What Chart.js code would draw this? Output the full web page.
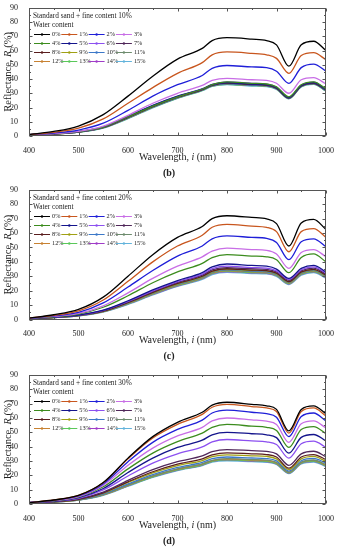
<!DOCTYPE html>
<html>
<head>
<meta charset="utf-8">
<script src="https://cdn.jsdelivr.net/npm/chart.js@4.4.1/dist/chart.umd.min.js"></script>
<style>
  html, body { margin: 0; padding: 0; background: #fff; }
  canvas { display: block; }
</style>
</head>
<body>
<canvas id="chartB" width="337" height="182"></canvas>
<canvas id="chartC" width="337" height="184"></canvas>
<canvas id="chartD" width="337" height="184"></canvas>
<script>
// wavelength (nm) at which values were read
const wavelengths = [400, 450, 500, 550, 600, 650, 700, 750, 770, 800, 850, 880, 900, 925, 950, 975, 1000];

const waterContent = ['0%', '1%', '2%', '3%', '4%', '5%', '6%', '7%',
                      '8%', '9%', '10%', '11%', '12%', '13%', '14%', '15%'];

const seriesColors = ['#000000', '#c8561e', '#1f1fd8', '#c86ee6', '#3c8c1e', '#14148c', '#8c50f0', '#50285a',
                      '#5a1e1e', '#a0a014', '#3c78c8', '#6e8c6e', '#c88232', '#5ac85a', '#a03cc8', '#64b4dc'];

// reflectance (%), fine content 10%, one row per water content
const fine10 = [
  [1.0, 3.2, 7.0, 15, 28, 42, 54, 61.5, 67, 69, 68, 67, 64, 49, 64, 66.5, 60],
  [1.0, 2.6, 5.5, 12, 23, 34, 44, 51.5, 57, 59, 58, 57, 54.5, 44, 56.5, 58.5, 53.5],
  [1.0, 2.1, 4.2, 9, 18, 28, 36, 42.5, 47.5, 49.5, 48.5, 48, 45.5, 37, 48, 50.5, 45.5],
  [1.0, 1.7, 3.3, 7, 14.5, 23, 30, 35.5, 39, 40.5, 39.5, 39, 37, 30, 39.5, 41, 36.5],
  [1.0, 1.6, 3.0, 6.2, 13.5, 21, 27.5, 33, 36, 38, 37, 36.5, 34.5, 27.5, 36, 38, 33],
  [1.0, 1.6, 3.1, 6.4, 13.8, 21.5, 28, 33, 36, 37.5, 36.5, 36, 34, 27, 35.5, 37.5, 32.5],
  [1.0, 1.6, 3.0, 6.3, 13.6, 21.3, 27.8, 33.2, 36.2, 38, 37, 36.4, 34.4, 27.2, 35.8, 37.8, 32.8],
  [1.0, 1.5, 2.9, 6.0, 13.2, 21, 27.5, 32.8, 35.8, 37.3, 36.3, 35.8, 33.8, 26.8, 35.3, 37.2, 32.3],
  [1.0, 1.5, 2.9, 6.0, 13.0, 20.6, 27.2, 32.6, 35.6, 37.1, 36.1, 35.6, 33.6, 26.7, 35.2, 37.0, 32.2],
  [1.0, 1.5, 2.9, 6.1, 13.2, 20.9, 27.4, 32.9, 35.9, 37.5, 36.5, 36.0, 34.0, 27.0, 35.6, 37.6, 32.7],
  [1.0, 1.5, 2.8, 5.9, 12.8, 20.4, 27.0, 32.4, 35.4, 36.8, 35.8, 35.4, 33.4, 26.5, 35.0, 36.8, 32.0],
  [1.0, 1.5, 2.8, 5.8, 12.6, 20.2, 26.8, 32.2, 35.2, 36.5, 35.6, 35.2, 33.2, 26.4, 34.8, 36.6, 31.8],
  [1.0, 1.5, 2.8, 5.8, 12.7, 20.3, 26.9, 32.3, 35.3, 36.6, 35.7, 35.3, 33.3, 26.5, 34.9, 36.7, 31.9],
  [1.0, 1.4, 2.7, 5.7, 12.4, 20.0, 26.6, 32.0, 35.0, 36.3, 35.4, 35.0, 33.0, 26.2, 34.6, 36.4, 31.6],
  [1.0, 1.5, 2.8, 5.9, 12.8, 20.5, 27.1, 32.5, 35.5, 36.8, 35.9, 35.5, 33.5, 26.6, 35.1, 36.9, 32.1],
  [1.0, 1.4, 2.7, 5.6, 12.2, 19.8, 26.4, 31.8, 34.8, 36.0, 35.1, 34.7, 32.7, 26.0, 34.4, 36.2, 31.4]
];

// reflectance (%), fine content 20%
const fine20 = [
  [1.0, 3.3, 7.0, 15.5, 30, 45, 57, 64.5, 70, 72, 70.8, 69.8, 66.5, 51, 67, 69.5, 62.5],
  [1.0, 2.9, 6.0, 13.5, 26.5, 40, 51, 58.5, 64, 66, 64.8, 64, 61, 47, 61, 63, 57],
  [1.0, 2.5, 5.0, 11.5, 22.5, 34, 44, 51, 56, 58, 57, 56.3, 53.5, 41.5, 54, 56, 50.5],
  [1.0, 2.1, 4.2, 9.5, 18.5, 28.5, 37, 43.5, 47.5, 49.5, 48.5, 48, 45.5, 35.5, 46.5, 48.5, 43.5],
  [1.0, 1.9, 3.8, 8.5, 16.5, 25.5, 33, 39, 43, 45, 44, 43.5, 41.5, 32.5, 43, 45.5, 40],
  [1.0, 1.6, 3.1, 6.5, 13, 20.5, 27, 32.5, 36.5, 38.5, 37.5, 37, 35, 28.5, 35.5, 37.5, 33],
  [1.0, 1.6, 3.0, 6.3, 12.5, 19.8, 26.3, 31.5, 35.3, 37, 36, 35.6, 33.8, 27.8, 34.5, 36.5, 32.2],
  [1.0, 1.5, 2.9, 6.1, 12.2, 19.3, 25.7, 30.8, 34.5, 36, 35.2, 34.8, 33, 27.2, 33.8, 35.7, 31.5],
  [1.0, 1.5, 2.8, 5.8, 11.8, 18.8, 25, 30, 33.5, 35.2, 34.3, 33.9, 32.2, 26.3, 33, 34.8, 30.8],
  [1.0, 1.5, 2.8, 5.8, 11.7, 18.6, 24.8, 29.8, 33.3, 35, 34.1, 33.7, 32, 26.1, 32.8, 34.6, 30.6],
  [1.0, 1.5, 2.8, 5.7, 11.5, 18.4, 24.5, 29.5, 33, 34.6, 33.7, 33.3, 31.6, 25.8, 32.5, 34.3, 30.3],
  [1.0, 1.4, 2.7, 5.6, 11.3, 18.1, 24.2, 29.1, 32.6, 34.2, 33.3, 33, 31.3, 25.5, 32.2, 34, 30],
  [1.0, 1.4, 2.7, 5.5, 11.1, 17.9, 24, 28.9, 32.4, 34, 33.1, 32.8, 31.1, 25.3, 32, 33.8, 29.8],
  [1.0, 1.4, 2.6, 5.4, 10.9, 17.6, 23.6, 28.5, 32, 33.5, 32.6, 32.3, 30.6, 24.9, 31.5, 33.3, 29.3],
  [1.0, 1.4, 2.6, 5.4, 10.8, 17.4, 23.4, 28.3, 31.8, 33.3, 32.4, 32.1, 30.4, 24.7, 31.3, 33.1, 29.1],
  [1.0, 1.3, 2.5, 5.2, 10.5, 17.0, 23.0, 27.8, 31.2, 32.7, 31.9, 31.6, 29.9, 24.3, 30.8, 32.6, 28.6]
];

// reflectance (%), fine content 30%
const fine30 = [
  [1.0, 2.8, 6.0, 15, 32, 47, 57, 64, 69, 71, 69.5, 68.5, 66, 51, 66, 68.5, 63],
  [1.0, 2.8, 6.0, 14.8, 31.5, 46, 55.5, 62.5, 67.5, 69.5, 68, 67, 64.5, 49.5, 64.5, 67, 61.5],
  [1.0, 2.6, 5.6, 14, 29.5, 43, 52, 58.5, 63.5, 65.5, 64, 63, 60.5, 47, 61, 63.5, 58],
  [1.0, 2.4, 5.2, 13, 27, 39, 47.5, 53.5, 58, 60, 58.7, 57.8, 55.5, 43, 56, 58, 53],
  [1.0, 2.2, 4.8, 12, 24.5, 35.5, 43.5, 49.5, 53.5, 55.5, 54.3, 53.5, 51.3, 39.5, 52, 54, 49],
  [1.0, 2.0, 4.4, 10.8, 22, 32, 39.5, 44.5, 48.3, 50, 49, 48.3, 46.3, 35.5, 46.5, 48.5, 44],
  [1.0, 1.9, 4.0, 9.8, 19.5, 28.5, 35, 39.8, 43.3, 45, 44, 43.4, 41.5, 32, 42, 43.8, 39.5],
  [1.0, 1.7, 3.5, 8.3, 16.5, 24, 29.5, 33.5, 36.5, 38, 37.2, 36.7, 35, 27, 35, 36.8, 33],
  [1.0, 1.6, 3.3, 7.8, 15.5, 22.5, 27.8, 31.5, 34.3, 35.7, 35, 34.5, 32.8, 25, 32.8, 34.5, 31],
  [1.0, 1.6, 3.2, 7.5, 15, 21.7, 26.8, 30.3, 33, 34.3, 33.6, 33.2, 31.5, 24, 31.5, 33.2, 29.8],
  [1.0, 1.5, 3.0, 7.0, 14, 20.5, 25.5, 29, 31.6, 32.8, 32.1, 31.7, 30.1, 23, 30.2, 31.8, 28.5],
  [1.0, 1.5, 2.9, 6.6, 13.3, 19.6, 24.5, 28, 30.5, 31.6, 31, 30.6, 29, 22.3, 29.2, 30.7, 27.5],
  [1.0, 1.5, 2.9, 6.5, 13.1, 19.4, 24.3, 27.8, 30.3, 31.3, 30.7, 30.3, 28.7, 22.1, 29, 30.4, 27.2],
  [1.0, 1.4, 2.8, 6.3, 12.8, 19.0, 23.8, 27.3, 29.8, 30.8, 30.2, 29.8, 28.2, 21.7, 28.5, 29.9, 26.7],
  [1.0, 1.4, 2.8, 6.3, 12.7, 18.9, 23.7, 27.2, 29.7, 30.6, 30, 29.6, 28, 21.6, 28.3, 29.7, 26.5],
  [1.0, 1.4, 2.7, 6.1, 12.4, 18.5, 23.3, 26.8, 29.2, 30.1, 29.5, 29.1, 27.6, 21.2, 27.9, 29.3, 26.1]
];

const FONT = '"Liberation Serif", "Times New Roman", serif';
const INK = '#222';

function drawParts(ctx, parts, cx, cy, size) {
  let total = 0;
  const widths = parts.map(p => {
    ctx.font = `${p[1]} ${size}px ${FONT}`;
    const w = ctx.measureText(p[0]).width;
    total += w;
    return w;
  });
  let x = cx - total / 2;
  ctx.textAlign = 'left';
  ctx.textBaseline = 'middle';
  parts.forEach((p, i) => {
    ctx.font = `${p[1]} ${size}px ${FONT}`;
    ctx.fillText(p[0], x, cy);
    x += widths[i];
  });
}

// box, inward ticks, titles, panel tag and the 4x4 legend
const framePlugin = {
  id: 'frame',
  afterDraw(chart, args, opts) {
    const { ctx, chartArea: a, scales: { x, y } } = chart;
    const L = Math.round(a.left) + 0.5, R = Math.round(a.right) - 0.5;
    const T = Math.round(a.top) + 0.5, B = Math.round(a.bottom) - 0.5;
    ctx.save();
    ctx.strokeStyle = '#555';
    ctx.lineWidth = 1;
    ctx.strokeRect(L, T, R - L, B - T);

    ctx.beginPath();
    for (let v = 400; v <= 1000; v += 50) {
      const px = Math.round(x.getPixelForValue(v)) + 0.5;
      const len = v % 100 ? 1.5 : 3;
      ctx.moveTo(px, B); ctx.lineTo(px, B - len);
      ctx.moveTo(px, T); ctx.lineTo(px, T + len);
    }
    for (let v = 0; v <= 90; v += 5) {
      const py = Math.round(y.getPixelForValue(v)) + 0.5;
      const len = v % 10 ? 1.5 : 3;
      ctx.moveTo(L, py); ctx.lineTo(L + len, py);
      ctx.moveTo(R, py); ctx.lineTo(R - len, py);
    }
    ctx.stroke();

    ctx.fillStyle = INK;
    drawParts(ctx, [['Wavelength, ', 'normal'], ['i', 'italic'], [' (nm)', 'normal']],
      (a.left + a.right) / 2, a.bottom + 21, 10);

    ctx.save();
    ctx.translate(8, (a.top + a.bottom) / 2);
    ctx.rotate(-Math.PI / 2);
    drawParts(ctx, [['Reflectance, ', 'normal'], ['R', 'italic'], [' (%)', 'normal']], 0, 0, 10.5);
    ctx.restore();

    drawParts(ctx, [[opts.tag, 'bold']], 169, a.bottom + 37, 10);

    // legend
    const lx = a.left + 4, ly = a.top + 8;
    ctx.font = `7.3px ${FONT}`;
    ctx.textAlign = 'left';
    ctx.textBaseline = 'middle';
    ctx.fillText('Standard sand + fine content ' + opts.fines, lx, ly);
    ctx.fillText('Water content', lx, ly + 9);
    ctx.font = `6.3px ${FONT}`;
    ctx.lineWidth = 1;
    chart.data.datasets.forEach((ds, i) => {
      const col = i % 4, row = Math.floor(i / 4);
      const sx = lx + 1 + col * 27.3, sy = Math.round(ly + 18 + row * 9) + 0.5;
      ctx.strokeStyle = ds.borderColor;
      ctx.beginPath();
      ctx.moveTo(sx, sy); ctx.lineTo(sx + 16, sy);
      ctx.stroke();
      ctx.fillStyle = ds.borderColor;
      ctx.beginPath();
      ctx.arc(sx + 8, sy, 1.2, 0, Math.PI * 2);
      ctx.fill();
      ctx.fillStyle = INK;
      ctx.fillText(ds.label, sx + 18, sy);
    });
    ctx.restore();
  }
};

function makeChart(id, rows, fines, tag, top, plotH) {
  const canvas = document.getElementById(id);
  const H = canvas.height;
  return new Chart(canvas, {
    type: 'line',
    data: {
      datasets: rows.map((vals, i) => ({
        label: waterContent[i],
        data: vals.map((v, k) => ({ x: wavelengths[k], y: v })),
        borderColor: seriesColors[i],
        backgroundColor: seriesColors[i],
        borderWidth: 1.3,
        pointRadius: 0,
        cubicInterpolationMode: 'monotone',
        fill: false
      }))
    },
    options: {
      responsive: false,
      animation: false,
      layout: { padding: { top: top, right: 11, left: 0, bottom: 0 } },
      plugins: {
        legend: { display: false },
        tooltip: { enabled: false },
        frame: { fines: fines, tag: tag }
      },
      scales: {
        x: {
          type: 'linear',
          min: 400,
          max: 1000,
          grid: { display: false },
          border: { display: false },
          ticks: {
            stepSize: 100, autoSkip: false, maxRotation: 0, padding: 2, color: INK,
            font: { family: FONT, size: 8 },
            callback: v => String(v)
          },
          afterFit: s => { s.height = H - top - plotH; }
        },
        y: {
          min: 0,
          max: 90,
          grid: { display: false },
          border: { display: false },
          ticks: { stepSize: 10, padding: 3, color: INK, font: { family: FONT, size: 8 } },
          afterFit: s => { s.width = 29; }
        }
      }
    },
    plugins: [framePlugin]
  });
}

makeChart('chartB', fine10, '10%', '(b)', 6, 130);
makeChart('chartC', fine20, '20%', '(c)', 7, 130.5);
makeChart('chartD', fine30, '30%', '(d)', 9, 129);
</script>
</body>
</html>
